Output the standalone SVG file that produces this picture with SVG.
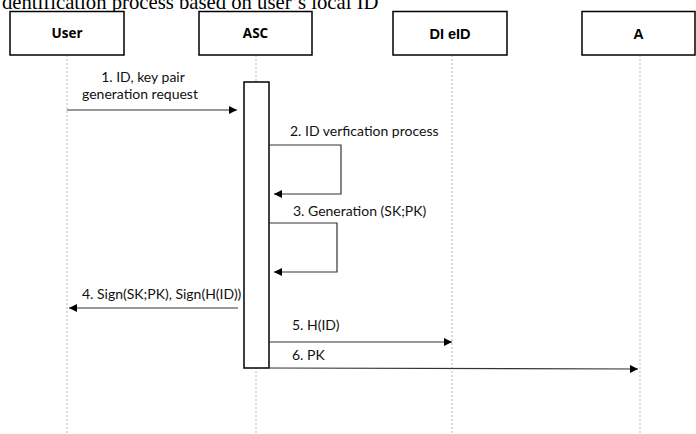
<svg xmlns="http://www.w3.org/2000/svg" width="696" height="434" viewBox="0 0 696 434">
  <style>
    .title { font-family: "Liberation Serif", serif; font-size: 20.7px; fill: #000; }
    .box { fill: #fff; stroke: #000; stroke-width: 1.5; }
    .head { font-family: "Open Sans", "Liberation Sans", sans-serif; font-size: 13.5px; font-weight: bold; text-anchor: middle; fill: #000; }
    .head2 { font-family: "Liberation Sans", sans-serif; font-size: 14.5px; font-weight: bold; text-anchor: middle; fill: #000; }
    .life { stroke: #b8b8b8; stroke-width: 1; stroke-dasharray: 2 2; fill: none; }
    .act { fill: #fff; stroke: #000; stroke-width: 1.5; }
    .msg { stroke: #333; stroke-width: 1.2; fill: none; }
    .lbl { font-family: Lato, "Open Sans", sans-serif; font-size: 14px; fill: #111; }
  </style>
  <defs>
    <marker id="arrow" viewBox="0 0 10 10" refX="10" refY="5" markerWidth="8" markerHeight="8" markerUnits="userSpaceOnUse" orient="auto">
      <path d="M0,0 L10,5 L0,10 z" fill="#000"/>
    </marker>
  </defs>

  <rect width="696" height="434" fill="#fff"/>
  <text class="title" x="2" y="8.5">dentification process based on user’s local ID</text>

  <!-- lifelines -->
  <g id="lifelines">
    <line class="life" x1="67" y1="55" x2="67" y2="434"/>
    <line class="life" x1="256" y1="55" x2="256" y2="434"/>
    <line class="life" x1="452" y1="55" x2="452" y2="434"/>
    <line class="life" x1="640" y1="55" x2="640" y2="434"/>
  </g>

  <!-- participants -->
  <g id="user">
    <rect class="box" x="10" y="11.5" width="114" height="43.5"/>
    <text class="head" x="67" y="38">User</text>
  </g>
  <g id="asc">
    <rect class="box" x="199" y="11.5" width="113" height="43.5"/>
    <text class="head" x="255.5" y="38">ASC</text>
  </g>
  <g id="di-eid">
    <rect class="box" x="393" y="11.5" width="114" height="43.5"/>
    <text class="head2" x="450" y="39">DI eID</text>
  </g>
  <g id="a">
    <rect class="box" x="582" y="11.5" width="113" height="43.5"/>
    <text class="head2" x="638.5" y="39">A</text>
  </g>

  <!-- activation bar on ASC -->
  <g id="asc-activation">
    <rect class="act" x="244" y="82" width="25" height="286"/>
  </g>

  <!-- messages -->
  <g id="connectors">
    <line class="msg" x1="67" y1="110" x2="237" y2="110" marker-end="url(#arrow)"/>
    <polyline class="msg" points="269,145 341,145 341,194 274,194" marker-end="url(#arrow)"/>
    <polyline class="msg" points="269,223 337,223 337,272 274,272" marker-end="url(#arrow)"/>
    <line class="msg" x1="238" y1="308" x2="69" y2="308" marker-end="url(#arrow)"/>
    <line class="msg" x1="269" y1="342" x2="452" y2="342" marker-end="url(#arrow)"/>
    <line class="msg" x1="269" y1="368" x2="638" y2="369" marker-end="url(#arrow)"/>
  </g>

  <!-- message labels -->
  <g id="labels">
    <text class="lbl" x="143" y="82" text-anchor="middle">1. ID, key pair</text>
    <text class="lbl" x="140" y="99" text-anchor="middle">generation request</text>
    <text class="lbl" x="290" y="136">2. ID verfication process</text>
    <text class="lbl" x="293" y="216">3. Generation (SK;PK)</text>
    <text class="lbl" x="82" y="299">4. Sign(SK;PK), Sign(H(ID))</text>
    <text class="lbl" x="292" y="330">5. H(ID)</text>
    <text class="lbl" x="292" y="360">6. PK</text>
  </g>
</svg>
